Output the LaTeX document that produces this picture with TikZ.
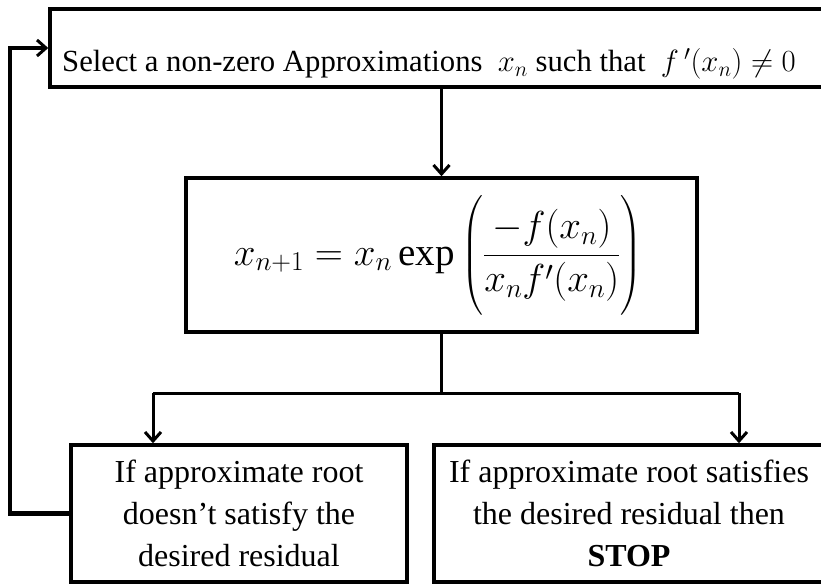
\RequirePackage{fix-cm}
\documentclass[tikz,border=0pt]{standalone}
\usepackage{amsmath}
\usepackage{fontspec}
\setmainfont{Liberation Serif}
\usetikzlibrary{arrows.meta}
\begin{document}
\begin{tikzpicture}[x=1pt,y=-1pt,
  box/.style={draw, line width=3.5pt, rectangle, inner sep=0pt},
  line/.style={line width=3pt},
  arr/.style={line width=3pt, -{Straight Barb[length=9pt,width=16pt,line width=3pt]}},
  fbline/.style={line width=4.5pt, -{Straight Barb[length=9pt,width=16pt,line width=3pt]}},
  btext/.style={align=center, font=\fontsize{32}{42}\selectfont}
]
\useasboundingbox (0,0) rectangle (821,583);
\node[box, minimum width=773pt, minimum height=78pt] (top) at (436.5,48) {};
\node[anchor=base west, inner sep=0pt, font=\fontsize{30.7}{36}\selectfont] (toptext) at (62,72)
  {Select a non-zero Approximations \ $x_{n}$ such that \ $f\,'(x_{n})\neq 0$};
\node[box, minimum width=511pt, minimum height=154pt] (mid) at (441.5,255) {};
\node[inner sep=0pt, font=\fontsize{39}{48}\selectfont] (formula) at (438,255)
  {$\displaystyle x_{n+1}=x_{n}\exp\left(\rule[-50pt]{0pt}{120pt}\frac{-f(x_{n})}{x_{n}f'(x_{n})}\right)$};
\node[box, minimum width=336pt, minimum height=137pt] (lb) at (239,513.5) {};
\node[btext] (lbt) at (lb.center) {If approximate root\\doesn’t satisfy the\\desired residual};
\node[box, minimum width=390pt, minimum height=137pt] (rb) at (629,513.5) {};
\node[btext] (rbt) at (rb.center) {If approximate root satisfies\\the desired residual then\\\textbf{STOP}};
\coordinate (bl) at (153,393);
\coordinate (brr) at (739,393);
\coordinate (fbx) at (10,0);
\draw[arr] (mid.north |- top.south) -- (mid.north);
\draw[line] (mid.south) -- (mid.south |- bl);
\draw[line] (bl) -- (brr);
\draw[arr] (bl) -- (bl |- lb.north);
\draw[arr] (brr) -- (brr |- rb.north);
\draw[fbline] (lb.west) -| (fbx |- top.west) -- (top.west);
\end{tikzpicture}
\end{document}
